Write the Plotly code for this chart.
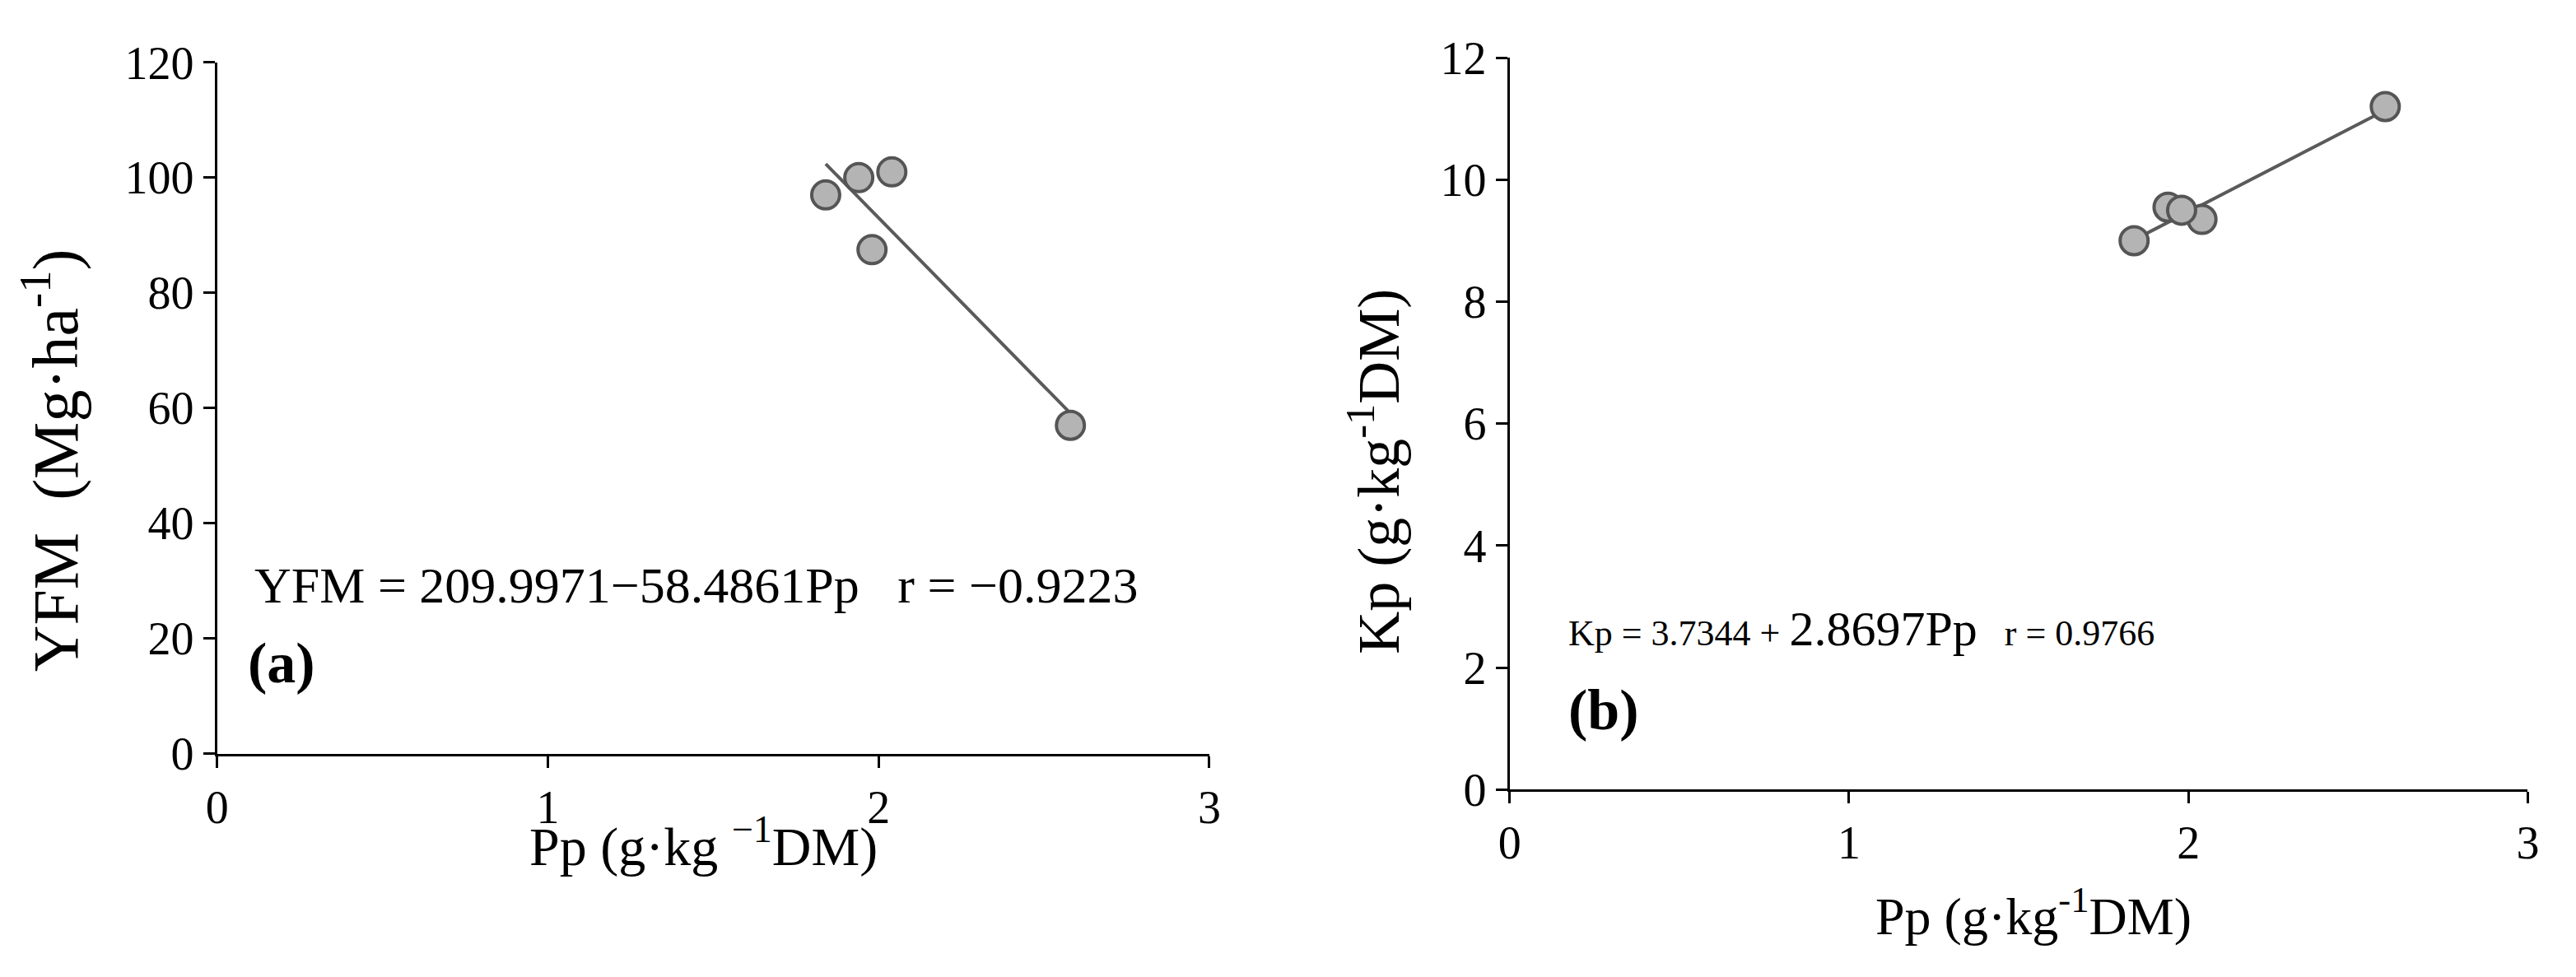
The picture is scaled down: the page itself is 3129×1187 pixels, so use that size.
import plotly.graph_objects as go

pp = [1.84, 1.94, 2.04, 1.98, 2.58]
yfm = [97, 100, 101, 87.5, 57]
kp = [9.0, 9.55, 9.35, 9.5, 11.2]
line_x = [1.84, 2.58]
yfm_fit = [209.9971 - 58.4861 * x for x in line_x]
kp_fit = [3.7344 + 2.8697 * x for x in line_x]

W, H = 3129, 1187
F = "Liberation Serif"
fig = go.Figure()
mk = dict(size=34, color="#b4b4b4", line=dict(color="#555555", width=4))
ln = dict(color="#5a5a5a", width=4)
fig.add_trace(go.Scatter(x=line_x, y=yfm_fit, mode="lines", line=ln, xaxis="x", yaxis="y"))
fig.add_trace(go.Scatter(x=pp, y=yfm, mode="markers", marker=mk, xaxis="x", yaxis="y"))
fig.add_trace(go.Scatter(x=line_x, y=kp_fit, mode="lines", line=ln, xaxis="x2", yaxis="y2"))
fig.add_trace(go.Scatter(x=pp, y=kp, mode="markers", marker=mk, xaxis="x2", yaxis="y2"))

ax = dict(showgrid=False, zeroline=False, showline=True, linecolor="black", linewidth=3,
          ticks="outside", ticklen=14, tickwidth=3, tickcolor="black",
          tickfont=dict(family=F, size=56, color="black"))
fig.update_layout(
    width=W, height=H, margin=dict(l=0, r=0, t=0, b=0), showlegend=False,
    plot_bgcolor="white", paper_bgcolor="white",
    xaxis=dict(ax, domain=[244/W, 1460/W], range=[0, 3], dtick=1, anchor="y"),
    yaxis=dict(ax, domain=[1-926/H, 1-40/H], range=[0, 120], dtick=20, anchor="x"),
    xaxis2=dict(ax, domain=[1828/W, 3076/W], range=[0, 3], dtick=1, anchor="y2"),
    yaxis2=dict(ax, domain=[1-972/H, 1-34/H], range=[0, 12], dtick=2, anchor="x2"),
)
def ann(x, y, t, size=46, angle=0, xa="left"):
    fig.add_annotation(x=x/W, y=1-y/H, xref="paper", yref="paper", text=t, showarrow=False,
                       xanchor=xa, yanchor="middle", textangle=angle,
                       font=dict(family=F, size=size, color="black"))
ann(288, 710, "YFM = 209.9971−58.4861Pp   r = −0.9223", size=62)
ann(280, 810, "<b>(a)</b>", size=70)
ann(1898, 766, "Kp = 3.7344 + <span style='font-size:60px'>2.8697Pp</span>   r = 0.9766", size=44)
ann(1898, 870, "<b>(b)</b>", size=70)
ann(40, 550, "YFM  (Mg·ha<sup>-1</sup>)", size=78, angle=-90, xa="center")
ann(1662, 564, "Kp (g·kg<sup>-1</sup>DM)", size=72, angle=-90, xa="center")
ann(840, 1040, "Pp (g·kg <sup>−1</sup>DM)", size=66, xa="center")
ann(2470, 1130, "Pp (g·kg<sup>-1</sup>DM)", size=64, xa="center")
fig.write_html("out.html")
